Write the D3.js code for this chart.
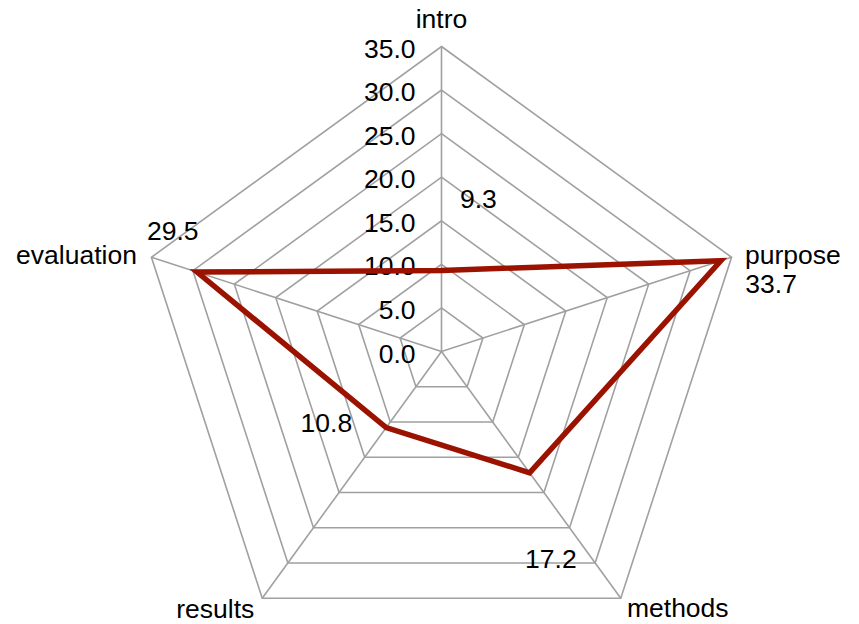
<html>
  <head>
    <style>
      body { margin: 0; background: #fff; }
      text { font-family: 'Liberation Sans', Arial, sans-serif; font-size: 26.5px; fill: #000; }
    </style>
  </head>
  <body>
    <script src="https://d3js.org/d3.v7.min.js"></script>
    <svg id="radar" width="859" height="624"></svg>
    <script>
      const categories = ['intro', 'purpose', 'methods', 'results', 'evaluation'];
      const values = [9.3, 33.7, 17.2, 10.8, 29.5];
      const tickValues = [0, 5, 10, 15, 20, 25, 30, 35];

      const cx = 441.5, cy = 351.5;
      const r = d3.scaleLinear().domain([0, 35]).range([0, 305]);
      const angle = (i) => (i * 2 * Math.PI) / categories.length;
      const pt = (i, v) => [r(v) * Math.sin(angle(i)), -r(v) * Math.cos(angle(i))];

      const svg = d3.select('#radar');
      const g = svg.append('g').attr('transform', `translate(${cx},${cy})`);

      // grid pentagons
      const ring = d3.lineRadial().angle((_, i) => angle(i)).curve(d3.curveLinearClosed);
      g.selectAll('path.grid')
        .data(tickValues)
        .enter()
        .append('path')
        .attr('class', 'grid')
        .attr('d', (t) => ring.radius(r(t))(categories))
        .attr('fill', 'none')
        .attr('stroke', '#a0a0a0')
        .attr('stroke-width', 1.6);

      // spokes
      g.selectAll('line.spoke')
        .data(categories)
        .enter()
        .append('line')
        .attr('x1', 0)
        .attr('y1', 0)
        .attr('x2', (_, i) => pt(i, 35)[0])
        .attr('y2', (_, i) => pt(i, 35)[1])
        .attr('stroke', '#a0a0a0')
        .attr('stroke-width', 1.6);

      // tick labels
      g.selectAll('text.tick')
        .data(tickValues)
        .enter()
        .append('text')
        .attr('x', -26)
        .attr('y', (t) => -r(t) + 11)
        .attr('text-anchor', 'end')
        .text((t) => t.toFixed(1));

      // series line
      const series = d3.lineRadial()
        .angle((_, i) => angle(i))
        .radius((d) => r(d))
        .curve(d3.curveLinearClosed);
      g.append('path')
        .attr('d', series(values))
        .attr('fill', 'none')
        .attr('stroke', '#9b1300')
        .attr('stroke-width', 5.5)
        .attr('stroke-linejoin', 'miter');

      // category labels (offset from outer vertex)
      const catOff = [
        { dx: 0, dy: -18.5, anchor: 'middle' },
        { dx: 13.5, dy: 7, anchor: 'start' },
        { dx: 57, dy: 19, anchor: 'middle' },
        { dx: -47, dy: 20, anchor: 'middle' },
        { dx: -14.5, dy: 7, anchor: 'end' },
      ];
      g.selectAll('text.cat')
        .data(categories)
        .enter()
        .append('text')
        .attr('x', (_, i) => pt(i, 35)[0] + catOff[i].dx)
        .attr('y', (_, i) => pt(i, 35)[1] + catOff[i].dy)
        .attr('text-anchor', (_, i) => catOff[i].anchor)
        .text((d) => d);

      // value labels (offset from data point)
      const valOff = [
        { dx: 18.5, dy: -62.5, anchor: 'start' },
        { dx: 24.5, dy: 32.5, anchor: 'start' },
        { dx: -4.5, dy: 95, anchor: 'start' },
        { dx: -34, dy: 4, anchor: 'end' },
        { dx: -50, dy: -32, anchor: 'start' },
      ];
      g.selectAll('text.val')
        .data(values)
        .enter()
        .append('text')
        .attr('x', (d, i) => pt(i, d)[0] + valOff[i].dx)
        .attr('y', (d, i) => pt(i, d)[1] + valOff[i].dy)
        .attr('text-anchor', (_, i) => valOff[i].anchor)
        .text((d) => d.toFixed(1));
    </script>
  </body>
</html>
